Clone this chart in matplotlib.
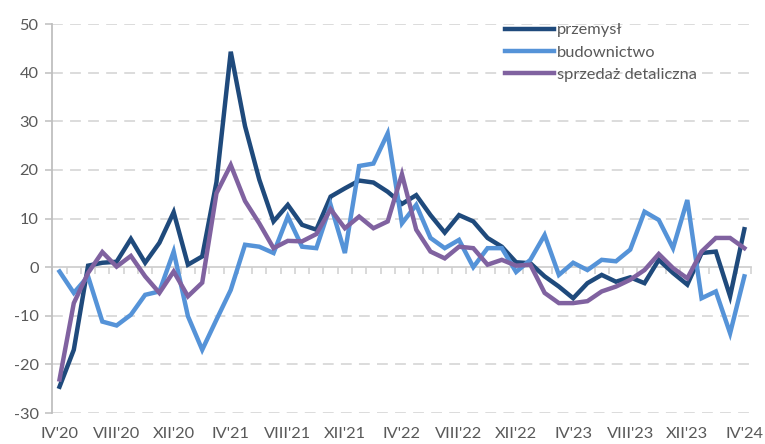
import matplotlib
matplotlib.use("Agg")
import matplotlib.pyplot as plt
import matplotlib.transforms as mtransforms
import numpy as np

months = ["IV'20", "V'20", "VI'20", "VII'20", "VIII'20", "IX'20", "X'20", "XI'20", "XII'20",
          "I'21", "II'21", "III'21", "IV'21", "V'21", "VI'21", "VII'21", "VIII'21", "IX'21",
          "X'21", "XI'21", "XII'21", "I'22", "II'22", "III'22", "IV'22", "V'22", "VI'22",
          "VII'22", "VIII'22", "IX'22", "X'22", "XI'22", "XII'22", "I'23", "II'23", "III'23",
          "IV'23", "V'23", "VI'23", "VII'23", "VIII'23", "IX'23", "X'23", "XI'23", "XII'23",
          "I'24", "II'24", "III'24", "IV'24"]

przemysl = [-24.6, -17.0, 0.3, 0.9, 1.1, 5.8, 0.9, 5.0, 11.3, 0.5, 2.2, 17.5, 44.3, 29.0,
            18.0, 9.4, 12.8, 8.7, 7.7, 14.5, 16.2, 17.8, 17.4, 15.5, 13.0, 14.8, 10.7, 7.1,
            10.7, 9.4, 6.0, 4.2, 1.0, 0.8, -1.9, -4.0, -6.4, -3.3, -1.6, -3.0, -2.1, -3.3,
            1.5, -1.2, -3.6, 2.9, 3.2, -6.0, 7.8]

budownictwo = [-0.9, -5.3, -1.9, -11.2, -12.0, -9.8, -5.7, -5.0, 3.2, -10.1, -17.0, -10.8,
               -4.7, 4.6, 4.2, 2.9, 10.4, 4.2, 3.9, 12.8, 2.9, 20.8, 21.3, 27.5, 9.0, 12.8,
               6.0, 3.9, 5.6, 0.0, 3.9, 3.9, -1.0, 1.5, 6.6, -1.6, 0.9, -0.6, 1.5, 1.2, 3.6,
               11.4, 9.7, 3.9, 13.8, -6.4, -5.0, -13.6, -1.9]

sprzedaz = [-23.1, -7.4, -1.2, 3.1, 0.1, 2.3, -1.9, -5.3, -0.9, -6.0, -3.2, 15.2, 21.0, 13.6,
            9.0, 3.9, 5.4, 5.3, 6.8, 11.9, 8.0, 10.4, 8.0, 9.4, 19.1, 7.7, 3.2, 1.8, 4.2, 3.9,
            0.5, 1.5, 0.3, 0.5, -5.3, -7.4, -7.4, -7.0, -5.0, -4.0, -2.6, -0.6, 2.7, -0.2,
            -2.3, 3.2, 6.0, 6.0, 3.9]

series_names = ["przemysł", "budownictwo", "sprzedaż detaliczna"]
colors = ["#1F4A7C", "#5593D8", "#8062A0"]
yticks = [-30, -20, -10, 0, 10, 20, 30, 40, 50]
label_every = 4

plt.rcParams['font.family'] = ['Lato', 'DejaVu Sans']
grey = "#595959"
fs = 11.8

fig = plt.figure(figsize=(7.65, 4.44), dpi=100)
ax = fig.add_axes([52.4 / 765, 1 - 413 / 444, (751.5 - 52.4) / 765, (413 - 24) / 444])

x = np.arange(len(months))
for vals, name, c in zip([przemysl, budownictwo, sprzedaz], series_names, colors):
    ax.plot(x, vals, color=c, lw=3.2, label=name, solid_joinstyle='miter', zorder=3)

ax.set_xlim(-0.5, len(months) - 0.5)
ax.set_ylim(-30, 50)
ax.set_yticks(yticks)
ax.set_yticklabels([str(v) for v in yticks])
for v in yticks:
    if v != 0:
        ax.axhline(v, color="#D9D9D9", lw=1.3, dashes=(6, 4), zorder=1)

ax.spines['top'].set_visible(False)
ax.spines['right'].set_visible(False)
ax.spines['left'].set_color("#BFBFBF")
ax.spines['left'].set_linewidth(1.3)
ax.spines['bottom'].set_position(('data', 0))
ax.spines['bottom'].set_color("#D0D0D0")
ax.spines['bottom'].set_linewidth(1.3)
ax.spines['bottom'].set_zorder(2)

ax.set_xticks(np.arange(len(months) + 1) - 0.5)
ax.tick_params(axis='x', length=5, width=1.1, color="#D0D0D0", labelbottom=False, direction='out')
ax.tick_params(axis='y', length=5, width=1.1, color="#BFBFBF", labelcolor=grey, labelsize=fs, pad=5)

trans = mtransforms.blended_transform_factory(ax.transData, ax.transAxes)
for i in range(0, len(months), label_every):
    ax.text(i, -0.035, months[i], transform=trans, ha='center', va='top', color=grey, fontsize=fs)

leg = ax.legend(loc='upper left', bbox_to_anchor=(0.638, 1.02), frameon=False,
                handlelength=3.0, handletextpad=0.15, labelspacing=0.48, fontsize=fs,
                borderaxespad=0)
for t in leg.get_texts():
    t.set_color(grey)

fig.savefig("out.png", dpi=100)
